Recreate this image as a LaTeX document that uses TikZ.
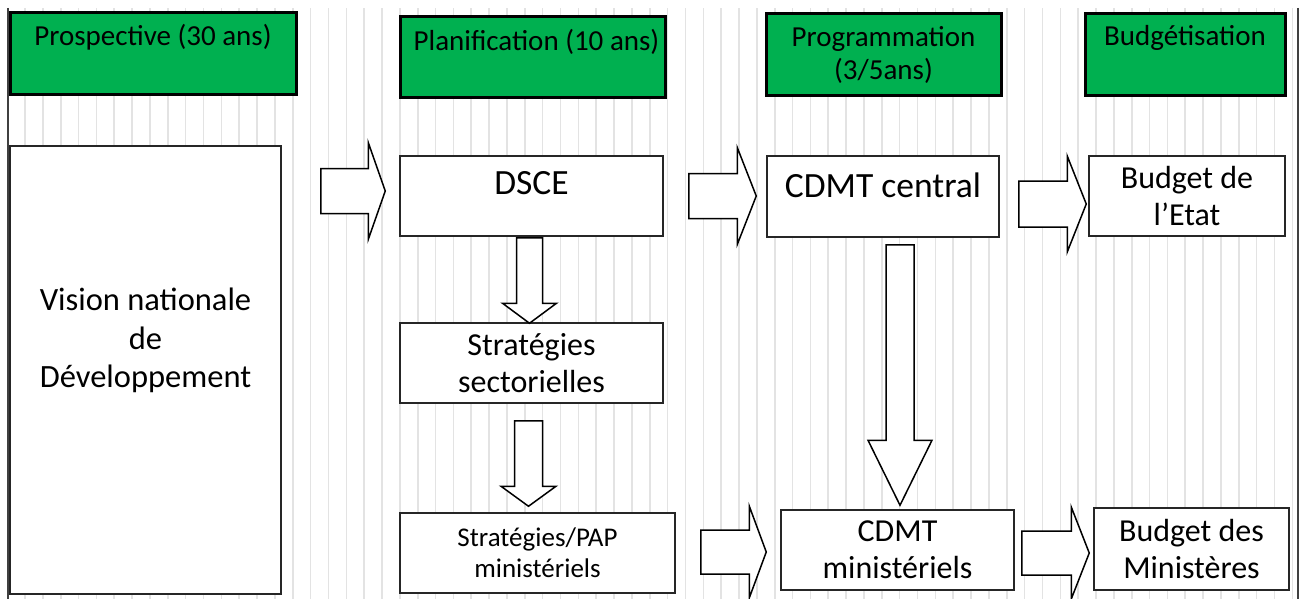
\documentclass[tikz,border=0pt]{standalone}
\usepackage{fontspec}
\setmainfont{Carlito}
\usetikzlibrary{calc}
\definecolor{hdrgreen}{RGB}{0,176,80}
\tikzset{stripe/.style={draw=black!11,line width=1.6pt},
 frame/.style={draw=black!75,line width=1.5pt},
 hdr/.style={draw=black,line width=3pt,fill=hdrgreen,minimum height=82pt,inner sep=0pt},
 hdrtxt/.style={anchor=north,inner sep=0pt,align=center,font=\fontsize{29}{33}\selectfont},
 box/.style={draw=black!85,line width=1.5pt,fill=white,minimum height=80pt,inner sep=0pt,
   align=center,font=\fontsize{32}{37}\selectfont},
 bigtxt/.style={anchor=base,inner sep=0pt,font=\fontsize{35.5}{42}\selectfont},
 blockr/.style n args={3}{draw=black,line width=1.5pt,fill=white,line join=miter,
   to path={let \p1=(\tikztostart),\p2=(\tikztotarget) in
     (\x1,\y1+#1pt) -- (\x2-#3pt,\y1+#1pt) -- (\x2-#3pt,\y1+#2pt) -- (\x2,\y1)
     -- (\x2-#3pt,\y1-#2pt) -- (\x2-#3pt,\y1-#1pt) -- (\x1,\y1-#1pt) -- cycle}},
 blockd/.style n args={3}{draw=black,line width=1.5pt,fill=white,line join=miter,
   to path={let \p1=(\tikztostart),\p2=(\tikztotarget) in
     (\x1-#1pt,\y1) -- (\x1-#1pt,\y2+#3pt) -- (\x1-#2pt,\y2+#3pt) -- (\x1,\y2)
     -- (\x1+#2pt,\y2+#3pt) -- (\x1+#1pt,\y2+#3pt) -- (\x1+#1pt,\y1) -- cycle}}}
\begin{document}
\begin{tikzpicture}[x=1pt,y=-1pt]
\useasboundingbox (0,0) rectangle (1301,599);
% striped background
\foreach \i in {0,...,71}
  \draw[stripe] ({25+17.85*\i},8) -- ({25+17.85*\i},599);
\draw[frame] (8,8) -- (8,599);
\draw[frame] (1298,8) -- (1298,599);
% column headers
\node[hdr,minimum width=286pt] (hprosp) at (153,54) {};
\node[hdr,minimum width=265pt,minimum height=81pt] (hplan) at (532.5,57.5) {};
\node[hdr,minimum width=235pt] (hprog) at (883.5,55) {};
\node[hdr,minimum width=200pt] (hbudg) at (1185,55) {};
\node[hdrtxt] at ($(hprosp.north)+(0,13)$) {Prospective (30 ans)};
\node[hdrtxt] at ($(hplan.north)+(4,14)$) {Planification (10 ans)};
\node[hdrtxt] at ($(hprog.north)+(0,14)$) {Programmation\\(3/5ans)};
\node[hdrtxt] at ($(hbudg.north)+(0,13)$) {Budgétisation};
% boxes
\node[box,minimum width=271pt,minimum height=448pt] (vision) at (145.5,370) {};
\node[anchor=north,inner sep=0pt,align=center,font=\fontsize{32.5}{38.5}\selectfont]
  at ($(vision.center)+(0,-82)$) {Vision nationale\\de\\Développement};
\node[box,minimum width=263pt] (dsce) at (531.5,196) {};
\node[bigtxt] at ($(dsce.center)+(0,-2)$) {DSCE};
\node[box,minimum width=263pt] (strat) at (531.5,363) {Stratégies\\sectorielles};
\node[box,minimum width=275pt,font=\fontsize{27}{31}\selectfont] (pap) at (537.5,553)
  {Stratégies/PAP\\ministériels};
\node[box,minimum width=232pt,minimum height=81pt] (cdmtc) at (883,196.5) {};
\node[bigtxt] at ($(cdmtc.center)+(0,0.5)$) {CDMT central};
\node[box,minimum width=233pt] (cdmtm) at (897.5,550) {CDMT\\ministériels};
\node[box,minimum width=196pt] (betat) at (1187,196) {Budget de\\l’Etat};
\node[box,minimum width=195pt,minimum height=82pt] (bmin) at (1191.5,549)
  {Budget des\\Ministères};
% block arrows
\draw[blockr={22.5}{48.5}{17}] ($(vision.east |- dsce.west)+(39,-5)$) to ($(dsce.west)+(-14,-5)$);
\draw[blockr={22.5}{48.5}{19}] ($(dsce.east)+(25,0)$) to ($(cdmtc.west)+(-10,-0.5)$);
\draw[blockr={23}{48}{19}] ($(cdmtc.east)+(19,7.5)$) to ($(betat.west)+(-2,8)$);
\draw[blockr={22}{46}{17}] ($(pap.east)+(25,-1)$) to ($(cdmtm.west |- pap.east)+(-14,-1)$);
\draw[blockr={22}{46}{18}] ($(cdmtm.east)+(7,3)$) to ($(bmin.west)+(-4,4)$);
\draw[blockd={13}{27}{20}] ($(dsce.south)+(-2,1)$) to ($(strat.north)+(-2,1)$);
\draw[blockd={14}{27.5}{20}] ($(strat.south)+(-3,17)$) to ($(pap.north -| strat.south)+(-3,-6)$);
\draw[blockd={14}{32}{65}] ($(cdmtc.south)+(17,7)$) to ($(cdmtm.north)+(2.5,-4)$);
\end{tikzpicture}
\end{document}
